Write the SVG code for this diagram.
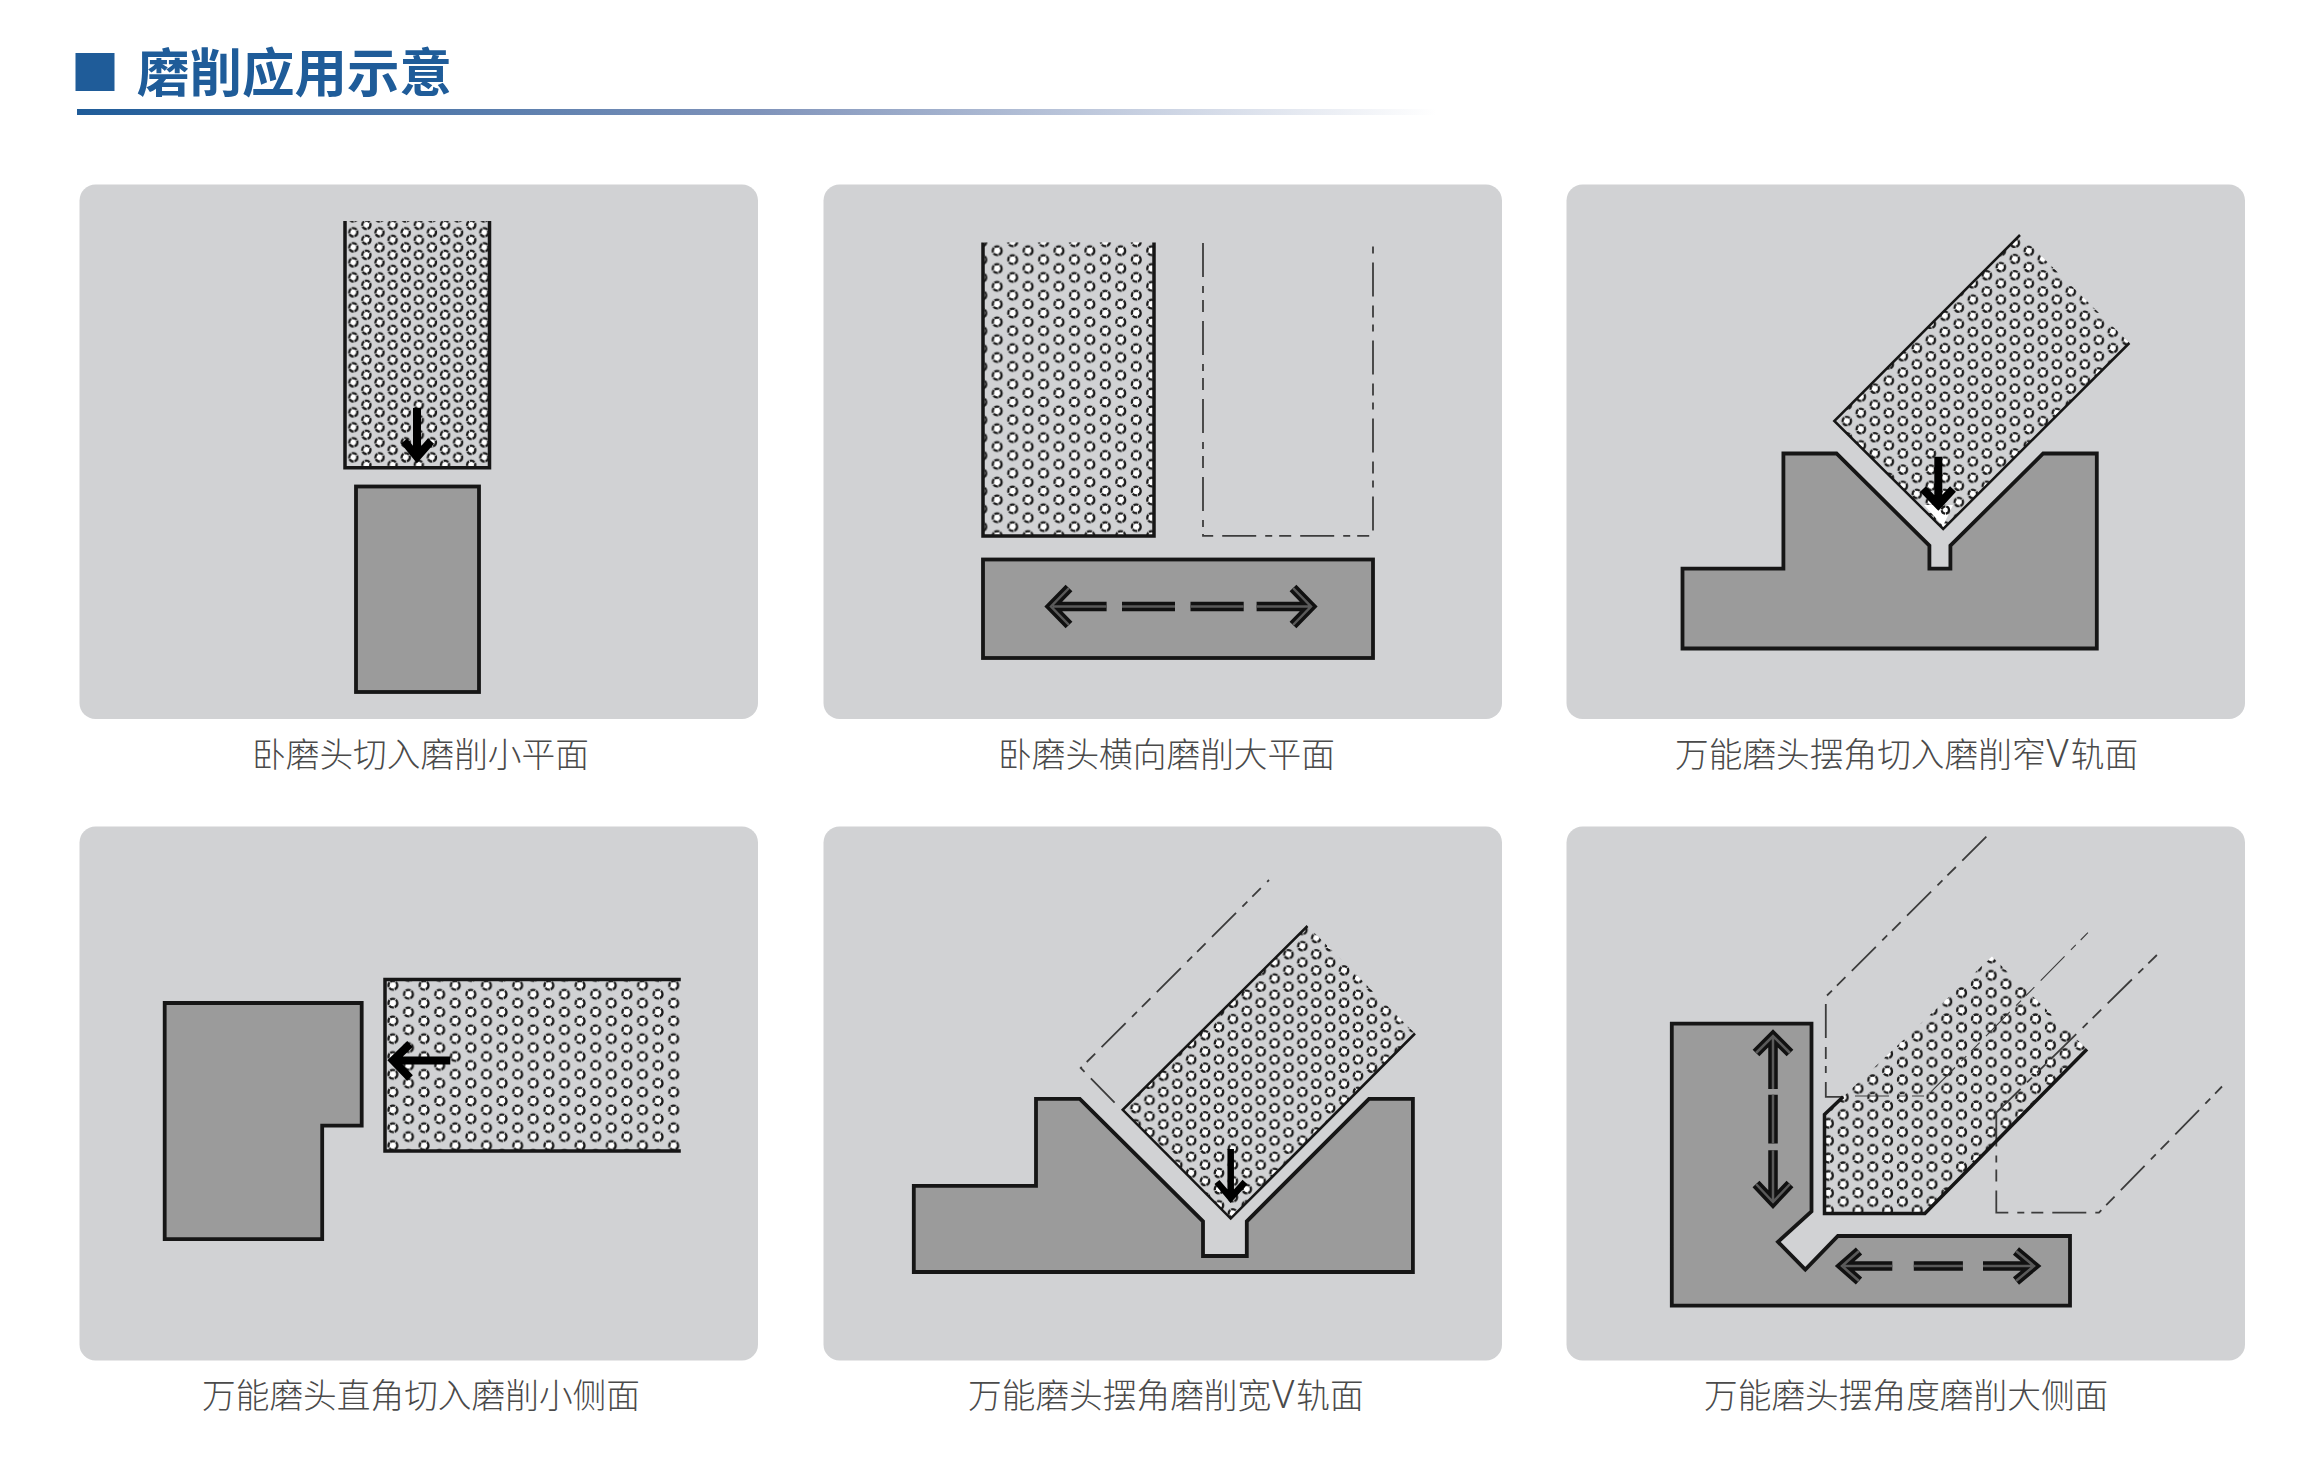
<svg xmlns="http://www.w3.org/2000/svg" width="2317" height="1461" viewBox="0 0 2317 1461">
<style>
.panel{fill:#d1d2d4}
.work{fill:#9b9b9b;stroke:#161616;stroke-width:3.8;stroke-linejoin:miter}
.edge{fill:none;stroke:#161616;stroke-width:3.5}
.ghost{fill:none;stroke:#3c3c3c;stroke-width:1.8;stroke-dasharray:34 9 7 7 12 9}
.faint{stroke-width:1.1}
.solid{fill:none;stroke:#000;stroke-width:8}
.oa{fill:none;stroke:#111;stroke-width:9.5}
.ia{fill:none;stroke:#5a5a5a;stroke-width:2.5}
.cap{font-family:"Noto Sans CJK SC","Liberation Sans",sans-serif;font-weight:300;font-size:33.7px;fill:#4a4a4a}
.v{font-family:"Noto Sans","Liberation Sans",sans-serif;font-weight:300;font-size:38px}
.title{font-family:"Noto Sans CJK SC","Liberation Sans",sans-serif;font-weight:700;font-size:52.5px;fill:#1f5c99}
.d{fill:#fff;stroke:#1a1a1a;stroke-width:2.3;stroke-dasharray:5 0.8}
</style>
<defs>
<linearGradient id="rule" x1="0" x2="1" y1="0" y2="0"><stop offset="0" stop-color="#1f5c99"/><stop offset="0.5" stop-color="#7f93ba"/><stop offset="1" stop-color="#7f93ba" stop-opacity="0"/></linearGradient>
<pattern id="p1" width="26.2" height="15" patternUnits="userSpaceOnUse" patternTransform="translate(346.75 224.8)"><rect width="26.2" height="15" fill="#d1d2d4"/><circle class="d" cx="6.55" cy="7.5" r="4.1"/><circle class="d" cx="19.65" cy="0" r="4.1"/><circle class="d" cx="19.65" cy="15" r="4.1"/></pattern>
<pattern id="p2" width="30.9" height="17.8" patternUnits="userSpaceOnUse" patternTransform="translate(989.5 241.8)"><rect width="30.9" height="17.8" fill="#d1d2d4"/><circle class="d" cx="7.7" cy="8.9" r="4.4"/><circle class="d" cx="23.2" cy="0" r="4.4"/><circle class="d" cx="23.2" cy="17.8" r="4.4"/></pattern>
<pattern id="p3" width="28" height="16.2" patternUnits="userSpaceOnUse" patternTransform="translate(1839.8 412.9)"><rect width="28" height="16.2" fill="#d1d2d4"/><circle class="d" cx="7" cy="8.1" r="4.2"/><circle class="d" cx="21" cy="0" r="4.2"/><circle class="d" cx="21" cy="16.2" r="4.2"/></pattern>
<pattern id="p4" width="31.2" height="17.8" patternUnits="userSpaceOnUse" patternTransform="translate(385.1 976.4)"><rect width="31.2" height="17.8" fill="#d1d2d4"/><circle class="d" cx="7.8" cy="8.9" r="4.4"/><circle class="d" cx="23.4" cy="0" r="4.4"/><circle class="d" cx="23.4" cy="17.8" r="4.4"/></pattern>
<pattern id="p5" width="27.8" height="16.2" patternUnits="userSpaceOnUse" patternTransform="translate(1142.5 1091.9)"><rect width="27.8" height="16.2" fill="#d1d2d4"/><circle class="d" cx="6.95" cy="8.1" r="4.2"/><circle class="d" cx="20.85" cy="0" r="4.2"/><circle class="d" cx="20.85" cy="16.2" r="4.2"/></pattern>
<pattern id="p6" width="29.6" height="17.4" patternUnits="userSpaceOnUse" patternTransform="translate(1835.8 1105.9)"><rect width="29.6" height="17.4" fill="#d1d2d4"/><circle class="d" cx="7.4" cy="8.7" r="4.4"/><circle class="d" cx="22.2" cy="0" r="4.4"/><circle class="d" cx="22.2" cy="17.4" r="4.4"/></pattern>
<path id="a2" d="M1069,588 L1051,606.5 L1069,625 M1053,606.5 H1106.6 M1122,606.5 H1175 M1190.5,606.5 H1243.7 M1256.6,606.5 H1310 M1293,588 L1311,606.5 L1293,625"/>
<path id="a6v" d="M1756,1053 L1773,1036 L1790,1053 M1773,1038 V1088.9 M1773,1094.8 V1143.4 M1773,1150.2 V1201 M1756,1184 L1773,1202 L1790,1184"/>
<path id="a6h" d="M1859,1251 L1842,1266 L1859,1281 M1844,1266 H1892.3 M1913.8,1266 H1962.9 M1983,1266 H2033 M2016,1251 L2034,1266 L2016,1281"/>
</defs>
<rect width="2317" height="1461" fill="#fff"/>
<g id="heading">
<rect x="75.5" y="53" width="39" height="38" fill="#1f5c99"/>
<text class="title" x="137" y="92">磨削应用示意</text>
<rect x="77" y="109" width="1360" height="6" fill="url(#rule)"/>
</g>
<g id="panel-1">
<rect class="panel" x="79.5" y="184.5" width="678.5" height="534.5" rx="16"/>
<rect x="345" y="221" width="144.5" height="246.7" fill="url(#p1)"/>
<path class="edge" d="M345,221 V467.7 H489.5 V221"/>
<rect class="work" x="356" y="486.5" width="123" height="205.5"/>
<path class="solid" d="M417,408 V458 M404,441 L417,457 L431,441"/>
<text class="cap" x="252" y="767">卧磨头切入磨削小平面</text>
</g>
<g id="panel-2">
<rect class="panel" x="823.5" y="184.5" width="678.5" height="534.5" rx="16"/>
<rect x="983" y="242.4" width="171" height="294" fill="url(#p2)"/>
<path class="edge" d="M983,242.4 V536 H1154 V242.4"/>
<path class="ghost" d="M1203,243 V535.8 H1373 V243"/>
<rect class="work" x="983" y="559.5" width="390" height="98.5"/>
<use href="#a2" class="oa"/><use href="#a2" class="ia"/>
<text class="cap" x="998" y="767">卧磨头横向磨削大平面</text>
</g>
<g id="panel-3">
<rect class="panel" x="1566.5" y="184.5" width="678.5" height="534.5" rx="16"/>
<polygon points="2020,235 2129.4,343 1943.2,529 1834.3,421" fill="url(#p3)"/>
<path class="edge" style="stroke-width:2.5" d="M2020,235 L1834.3,421 L1943.2,529 L2129.4,343"/>
<polygon class="work" points="1682.5,568.6 1783.4,568.6 1783.4,453.5 1836.5,453.5 1929.4,545.6 1929.4,568.6 1950.4,568.6 1950.4,545.6 2043.2,453.5 2096.8,453.5 2096.8,648.5 1682.5,648.5"/>
<polygon points="1924,505 1953,505 1943,526" fill="#fff"/>
<circle class="d" cx="1945.4" cy="510" r="3.6"/>
<path class="solid" d="M1938.3,456.7 V505 M1923,489 L1938.3,505 L1953,489"/>
<text class="cap" x="1675" y="767">万能磨头摆角切入磨削窄<tspan class="v" dx="1">V</tspan><tspan dx="2">轨面</tspan></text>
</g>
<g id="panel-4">
<rect class="panel" x="79.5" y="826.5" width="678.5" height="534" rx="16"/>
<rect x="385" y="979.4" width="295.8" height="171.6" fill="url(#p4)"/>
<path class="edge" d="M680.8,979.4 H385 V1151 H680.8"/>
<polygon class="work" points="164.7,1003 361.7,1003 361.7,1125.7 322.2,1125.7 322.2,1239.1 164.7,1239.1"/>
<path class="solid" d="M450.3,1060.4 H392 M410,1044 L393,1060.4 L410,1078"/>
<text class="cap" x="202" y="1408">万能磨头直角切入磨削小侧面</text>
</g>
<g id="panel-5">
<rect class="panel" x="823.5" y="826.5" width="678.5" height="534" rx="16"/>
<path class="ghost" d="M1114.6,1102.7 L1080.7,1068 L1269,880"/>
<polygon points="1307.5,926 1415,1033.5 1230.7,1218.6 1122.7,1109.8" fill="url(#p5)"/>
<path class="edge" style="stroke-width:2.5" d="M1307.5,926 L1122.7,1109.8 L1230.7,1218.6 L1415,1033.5"/>
<polygon class="work" points="913.8,1185.8 1036,1185.8 1036,1098.8 1079.8,1098.8 1203,1221.3 1203,1256 1246.8,1256 1246.8,1221.3 1369,1098.8 1412.9,1098.8 1412.9,1272 913.8,1272"/>
<path class="solid" style="stroke-width:6.5" d="M1230.7,1149 V1198 M1217,1182 L1230.7,1198 L1245,1182"/>
<text class="cap" x="968" y="1408">万能磨头摆角磨削宽<tspan class="v" dx="1">V</tspan><tspan dx="2">轨面</tspan></text>
</g>
<g id="panel-6">
<rect class="panel" x="1566.5" y="826.5" width="678.5" height="534" rx="16"/>
<path class="ghost" d="M1845,1096.8 H1825.8 V996.7 L1990,833"/>
<polygon points="1824.5,1114.6 1843.2,1096.8 1991.9,956.4 2087,1049.3 1924.9,1213.4 1824.5,1213.4" fill="url(#p6)"/>
<path class="ghost faint" d="M1855,1096 H1927 L2087.9,932.7"/>
<path class="ghost" d="M1996.3,1112.6 L2163,949"/>
<path class="ghost" d="M1996.3,1112.6 V1212.6 H2099 L2222,1086.5"/>
<path class="edge" d="M1843.2,1096.8 L1824.5,1114.6 V1213.4 H1924.9 L2087,1049.3"/>
<polygon class="work" points="1671.8,1023.6 1811.5,1023.6 1811.5,1211.5 1778,1241.9 1805.3,1269.6 1837.9,1236 2070,1236 2070,1305.6 1671.8,1305.6"/>
<use href="#a6v" class="oa"/><use href="#a6v" class="ia"/>
<use href="#a6h" class="oa"/><use href="#a6h" class="ia"/>
<text class="cap" x="1704" y="1408">万能磨头摆角度磨削大侧面</text>
</g>
</svg>
